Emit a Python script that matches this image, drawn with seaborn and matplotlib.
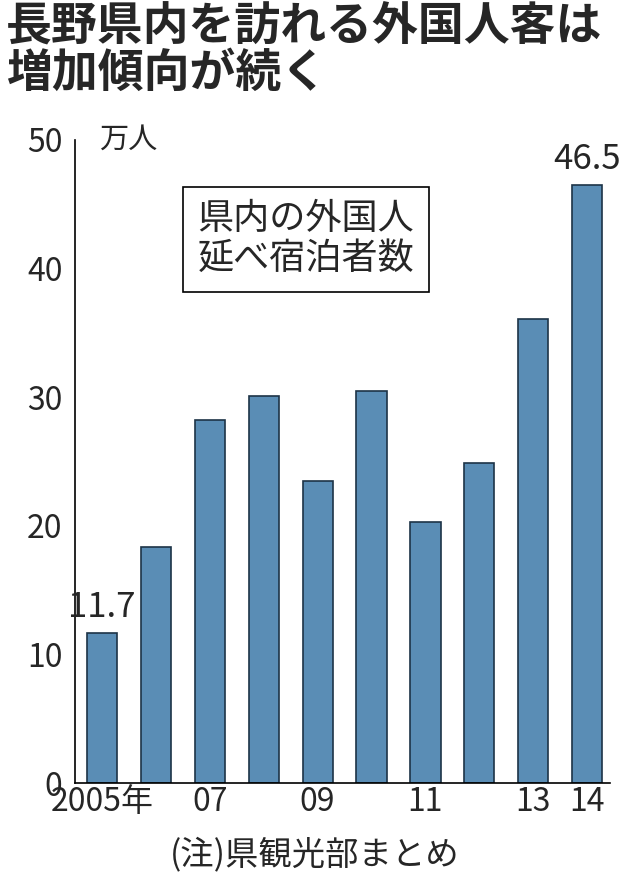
import matplotlib.pyplot as plt
import seaborn as sns
import pandas as pd

years = ["2005", "06", "07", "08", "09", "10", "11", "12", "13", "14"]
values = [11.7, 18.4, 28.2, 30.1, 23.5, 30.5, 20.3, 24.9, 36.1, 46.5]
tick_labels = ["2005年", "", "07", "", "09", "", "11", "", "13", "14"]

sns.set_style("white")
plt.rcParams['font.family'] = ['Noto Sans CJK JP', 'DejaVu Sans']

df = pd.DataFrame({"year": years, "value": values})

fig = plt.figure(figsize=(6.3, 8.86), dpi=100)
ax = fig.add_axes([0.119, 0.116, 0.849, 0.726])
sns.barplot(data=df, x="year", y="value", color="#5a8db5", width=0.56,
            edgecolor="#1d3347", linewidth=1.2, saturation=1, ax=ax)

ax.set_xlim(-0.5, 9.42)
ax.set_ylim(0, 50)
ax.set_yticks([0, 10, 20, 30, 40, 50])
ax.set_xticks(range(len(years)))
ax.set_xticklabels(tick_labels)
ax.tick_params(axis='y', labelsize=23, length=8, width=1.2, direction='out', pad=1)
ax.tick_params(axis='x', labelsize=23, length=0, pad=2)
ax.set_xlabel("")
ax.set_ylabel("")
for s in ["top", "right"]:
    ax.spines[s].set_visible(False)
for s in ["left", "bottom"]:
    ax.spines[s].set_color("black")
    ax.spines[s].set_linewidth(1.2)

ax.text(-0.05, 50, "万人", fontsize=21, va='center', ha='left')
for i in (0, 9):
    ax.text(i, values[i] + 0.6, f"{values[i]}", fontsize=25, ha='center', va='bottom')

ax.text(3.78, 42.3, "県内の外国人\n延べ宿泊者数", fontsize=26, ha='center', va='center',
        linespacing=1.15,
        bbox=dict(boxstyle='square,pad=0.4', facecolor='white', edgecolor='black', linewidth=1.2))

fig.text(0.01, 0.995, "長野県内を訪れる外国人客は\n増加傾向が続く", fontsize=33, fontweight='bold',
         ha='left', va='top', linespacing=1.0)
fig.text(0.5, 0.035, "(注)県観光部まとめ", fontsize=24, ha='center', va='center')

fig.savefig("out.png", dpi=100, facecolor='white')
